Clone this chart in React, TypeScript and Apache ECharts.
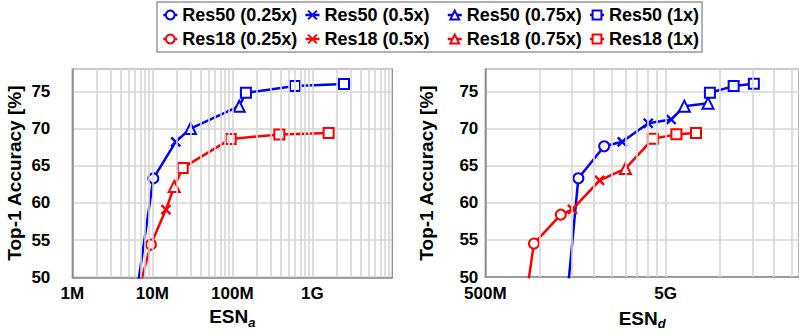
import React, { useEffect, useRef } from "react";
import * as echarts from "echarts";

const FONT = "'Liberation Sans', Arial, sans-serif";
const BLUE = "#0000FF";
const RED = "#FF0000";
const GRID_GRAY = "#d6d6d6";
const FRAME_GRAY = "#8c8c8c";

const RES50_NAMES = ["Res50 (0.25x)", "Res50 (0.5x)", "Res50 (0.75x)", "Res50 (1x)"];
const RES18_NAMES = ["Res18 (0.25x)", "Res18 (0.5x)", "Res18 (0.75x)", "Res18 (1x)"];

// ---- ESN_a panel: [ESN_a, top-1 accuracy %] ----
const A_RES50_LOW = [[5.0e6, 40.0]];
const A_RES50_025 = [[1.03e7, 63.3]];
const A_RES50_05 = [[1.96e7, 68.2]];
const A_RES50_075 = [[3.0e7, 70.0], [1.22e8, 73.0]];
const A_RES50_1 = [[1.48e8, 74.8], [6.08e8, 75.7], [2.49e9, 76.0]];

const A_RES18_LOW = [[4.2e6, 40.0]];
const A_RES18_025 = [[9.6e6, 54.4]];
const A_RES18_05 = [[1.48e7, 59.1]];
const A_RES18_075 = [[1.88e7, 62.2]];
const A_RES18_1 = [[2.4e7, 64.7], [9.55e7, 68.6], [3.87e8, 69.2], [1.6e9, 69.4]];

// ---- ESN_d panel: [ESN_d, top-1 accuracy %] ----
const D_RES50_LOW = [[1.33e9, 40.0]];
const D_RES50_025 = [[1.64e9, 63.3], [2.28e9, 67.6]];
const D_RES50_05 = [[2.87e9, 68.2], [4.0e9, 70.7], [5.36e9, 71.2]];
const D_RES50_075 = [[6.34e9, 73.0], [8.58e9, 73.4]];
const D_RES50_1 = [[8.79e9, 74.8], [1.19e10, 75.7], [1.54e10, 76.0]];

const D_RES18_LOW = [[7.6e8, 40.0]];
const D_RES18_025 = [[9.3e8, 54.5], [1.31e9, 58.4]];
const D_RES18_05 = [[1.52e9, 59.1], [2.15e9, 63.0]];
const D_RES18_075 = [[2.99e9, 64.6]];
const D_RES18_1 = [[4.24e9, 68.6], [5.73e9, 69.2], [7.36e9, 69.4]];

// ---- axes ----
const A_X_MIN = 1e6;
const A_X_MAX = 1e10;
const A_X_TICKS = [1e6, 1e7, 1e8, 1e9];
const A_X_LABELS = ["1M", "10M", "100M", "1G"];

const D_X_MIN = 5e8;
const D_X_MAX = 2.74e10;
const D_X_TICKS = [5e8, 5e9];
const D_X_LABELS = ["500M", "5G"];

const Y_MIN = 50;
const Y_MAX = 78;
const Y_STEP = 5;

const MULTIPLES = [1, 2, 3, 4, 5, 6, 7, 8, 9];

const lg = (v: number) => Math.log10(v);
const toLog = (pts: number[][]) => pts.map(([x, y]) => [lg(x), y]);

// vertical log-grid lines: k * base for each major base, inside the open range
function logGridLines(bases: number[], min: number, max: number) {
  const out: number[] = [];
  bases.forEach((b) => {
    MULTIPLES.forEach((k) => {
      const v = b * k;
      if (v > min * 1.0001 && v < max * 0.9999) out.push(v);
    });
  });
  return out;
}

const SYMBOLS = [
  { symbol: "emptyCircle", size: 10 },
  { symbol: "path://M0 0L10 10M10 0L0 10", size: 9 },
  { symbol: "emptyTriangle", size: 11 },
  { symbol: "emptyRect", size: 10 },
];

// markers only; the connecting line is drawn once by chainSeries
function markerSeries(
  names: string[],
  groups: number[][][],
  color: string,
  axisIndex: number
) {
  return groups.map((pts, i) => {
    const s = SYMBOLS[i];
    const isCross = i === 1;
    return {
      type: "line",
      name: names[i],
      xAxisIndex: axisIndex,
      yAxisIndex: axisIndex,
      data: toLog(pts),
      symbol: s.symbol,
      symbolSize: s.size,
      showSymbol: true,
      showAllSymbol: true,
      z: 4,
      color,
      lineStyle: { color, width: 0, opacity: 0 },
      itemStyle: isCross
        ? { color, borderColor: color, borderWidth: 2.4 }
        : { color, borderWidth: 1.8 },
      emphasis: { disabled: true },
    };
  });
}

function chainSeries(name: string, pts: number[][], color: string, axisIndex: number) {
  return {
    type: "line",
    name,
    xAxisIndex: axisIndex,
    yAxisIndex: axisIndex,
    data: toLog(pts),
    showSymbol: false,
    symbol: "none",
    z: 3,
    lineStyle: { color, width: 2.5 },
    emphasis: { disabled: true },
  };
}

// an invisible carrier series whose markLines form the vertical log grid
function gridLineSeries(values: number[], xMin: number, axisIndex: number) {
  return {
    type: "line",
    name: "grid-" + axisIndex,
    xAxisIndex: axisIndex,
    yAxisIndex: axisIndex,
    data: [[lg(xMin), Y_MIN]],
    symbol: "none",
    showSymbol: false,
    lineStyle: { width: 0 },
    z: 1,
    silent: true,
    markLine: {
      silent: true,
      symbol: ["none", "none"],
      label: { show: false },
      emphasis: { disabled: true },
      lineStyle: { color: GRID_GRAY, width: 1.6, type: "solid", opacity: 1 },
      data: values.map((v) => ({ xAxis: lg(v) })),
    },
  };
}

function xAxis(
  axisIndex: number,
  min: number,
  max: number,
  ticks: number[],
  labels: string[],
  sub: string,
  nameGap: number
) {
  const logTicks = ticks.map(lg);
  return {
    type: "value",
    gridIndex: axisIndex,
    min: lg(min),
    max: lg(max),
    splitLine: { show: false },
    axisTick: { show: false },
    axisLine: { lineStyle: { color: FRAME_GRAY, width: 1.5 } },
    axisLabel: {
      customValues: logTicks,
      formatter: (v: number) => {
        const i = logTicks.findIndex((t) => Math.abs(t - v) < 1e-6);
        return i >= 0 ? labels[i] : "";
      },
      fontSize: 17,
      lineHeight: 17,
      fontWeight: "bold",
      fontFamily: FONT,
      color: "#000",
      margin: 8,
    },
    name: "{m|ESN}{s|" + sub + "}",
    nameLocation: "middle",
    nameGap,
    nameTextStyle: {
      rich: {
        m: {
          fontSize: 19,
          fontWeight: "bold",
          fontFamily: FONT,
          color: "#000",
          lineHeight: 24,
        },
        s: {
          fontSize: 13,
          fontStyle: "italic",
          fontWeight: "bold",
          fontFamily: FONT,
          color: "#000",
          lineHeight: 24,
          verticalAlign: "bottom",
        },
      },
    },
  };
}

function yAxis(axisIndex: number, labelMargin: number, nameGap: number) {
  return {
    type: "value",
    gridIndex: axisIndex,
    min: Y_MIN,
    max: Y_MAX,
    interval: Y_STEP,
    axisTick: { show: false },
    axisLine: { show: true, lineStyle: { color: FRAME_GRAY, width: 1.5 } },
    splitLine: { lineStyle: { color: GRID_GRAY, width: 1.6 } },
    axisLabel: {
      showMaxLabel: false,
      fontSize: 17,
      lineHeight: 16,
      fontWeight: "bold",
      fontFamily: FONT,
      color: "#000",
      margin: labelMargin,
    },
    name: "Top-1 Accuracy [%]",
    nameLocation: "middle",
    nameGap,
    nameTextStyle: {
      fontSize: 19,
      fontWeight: "bold",
      fontFamily: FONT,
      color: "#000",
    },
  };
}

export default function App() {
  const ref = useRef<HTMLDivElement>(null);

  useEffect(() => {
    if (!ref.current) return;
    const chart = echarts.init(ref.current, undefined, { renderer: "svg" });

    const legendItem = (name: string, i: number) =>
      i < 3 ? { name, textStyle: { width: 116, overflow: "none" } } : { name };

    const option = {
      animation: false,
      backgroundColor: "#fff",
      legend: {
        left: 157,
        top: 2,
        width: 545,
        padding: [4, 3, 4, 5],
        itemGap: 6,
        itemWidth: 14,
        itemHeight: 11,
        borderColor: "#999",
        borderWidth: 1.5,
        backgroundColor: "#fff",
        lineStyle: { width: 2.5, opacity: 1 },
        textStyle: {
          fontSize: 18,
          fontWeight: "bold",
          fontFamily: FONT,
          color: "#000",
          lineHeight: 17,
        },
        data: [...RES50_NAMES.map(legendItem), ...RES18_NAMES.map(legendItem)],
      },
      grid: [
        {
          left: 72.3,
          top: 69,
          width: 320,
          height: 208.3,
          show: true,
          borderColor: FRAME_GRAY,
          borderWidth: 1.3,
        },
        {
          left: 485.3,
          top: 69,
          width: 331.6,
          height: 208.3,
          show: true,
          borderColor: FRAME_GRAY,
          borderWidth: 1.3,
        },
      ],
      xAxis: [
        xAxis(0, A_X_MIN, A_X_MAX, A_X_TICKS, A_X_LABELS, "a", 26),
        xAxis(1, D_X_MIN, D_X_MAX, D_X_TICKS, D_X_LABELS, "d", 29),
      ],
      yAxis: [yAxis(0, 22, 48), yAxis(1, 7, 49)],
      series: [
        gridLineSeries(logGridLines([1e6, 1e7, 1e8, 1e9], A_X_MIN, A_X_MAX), A_X_MIN, 0),
        gridLineSeries(logGridLines([5e8, 5e9], D_X_MIN, D_X_MAX), D_X_MIN, 1),

        chainSeries("Res50 front a", [...A_RES50_LOW, ...A_RES50_025, ...A_RES50_05, ...A_RES50_075, ...A_RES50_1], BLUE, 0),
        chainSeries("Res18 front a", [...A_RES18_LOW, ...A_RES18_025, ...A_RES18_05, ...A_RES18_075, ...A_RES18_1], RED, 0),
        ...markerSeries(RES50_NAMES, [A_RES50_025, A_RES50_05, A_RES50_075, A_RES50_1], BLUE, 0),
        ...markerSeries(RES18_NAMES, [A_RES18_025, A_RES18_05, A_RES18_075, A_RES18_1], RED, 0),

        chainSeries("Res50 front d", [...D_RES50_LOW, ...D_RES50_025, ...D_RES50_05, ...D_RES50_075, ...D_RES50_1], BLUE, 1),
        chainSeries("Res18 front d", [...D_RES18_LOW, ...D_RES18_025, ...D_RES18_05, ...D_RES18_075, ...D_RES18_1], RED, 1),
        ...markerSeries(RES50_NAMES, [D_RES50_025, D_RES50_05, D_RES50_075, D_RES50_1], BLUE, 1),
        ...markerSeries(RES18_NAMES, [D_RES18_025, D_RES18_05, D_RES18_075, D_RES18_1], RED, 1),
      ],
    };

    chart.setOption(option as any);
    return () => chart.dispose();
  }, []);

  return (
    <div
      ref={ref}
      style={{ position: "fixed", left: 0, top: 0, width: 799, height: 335, background: "#fff" }}
    />
  );
}
